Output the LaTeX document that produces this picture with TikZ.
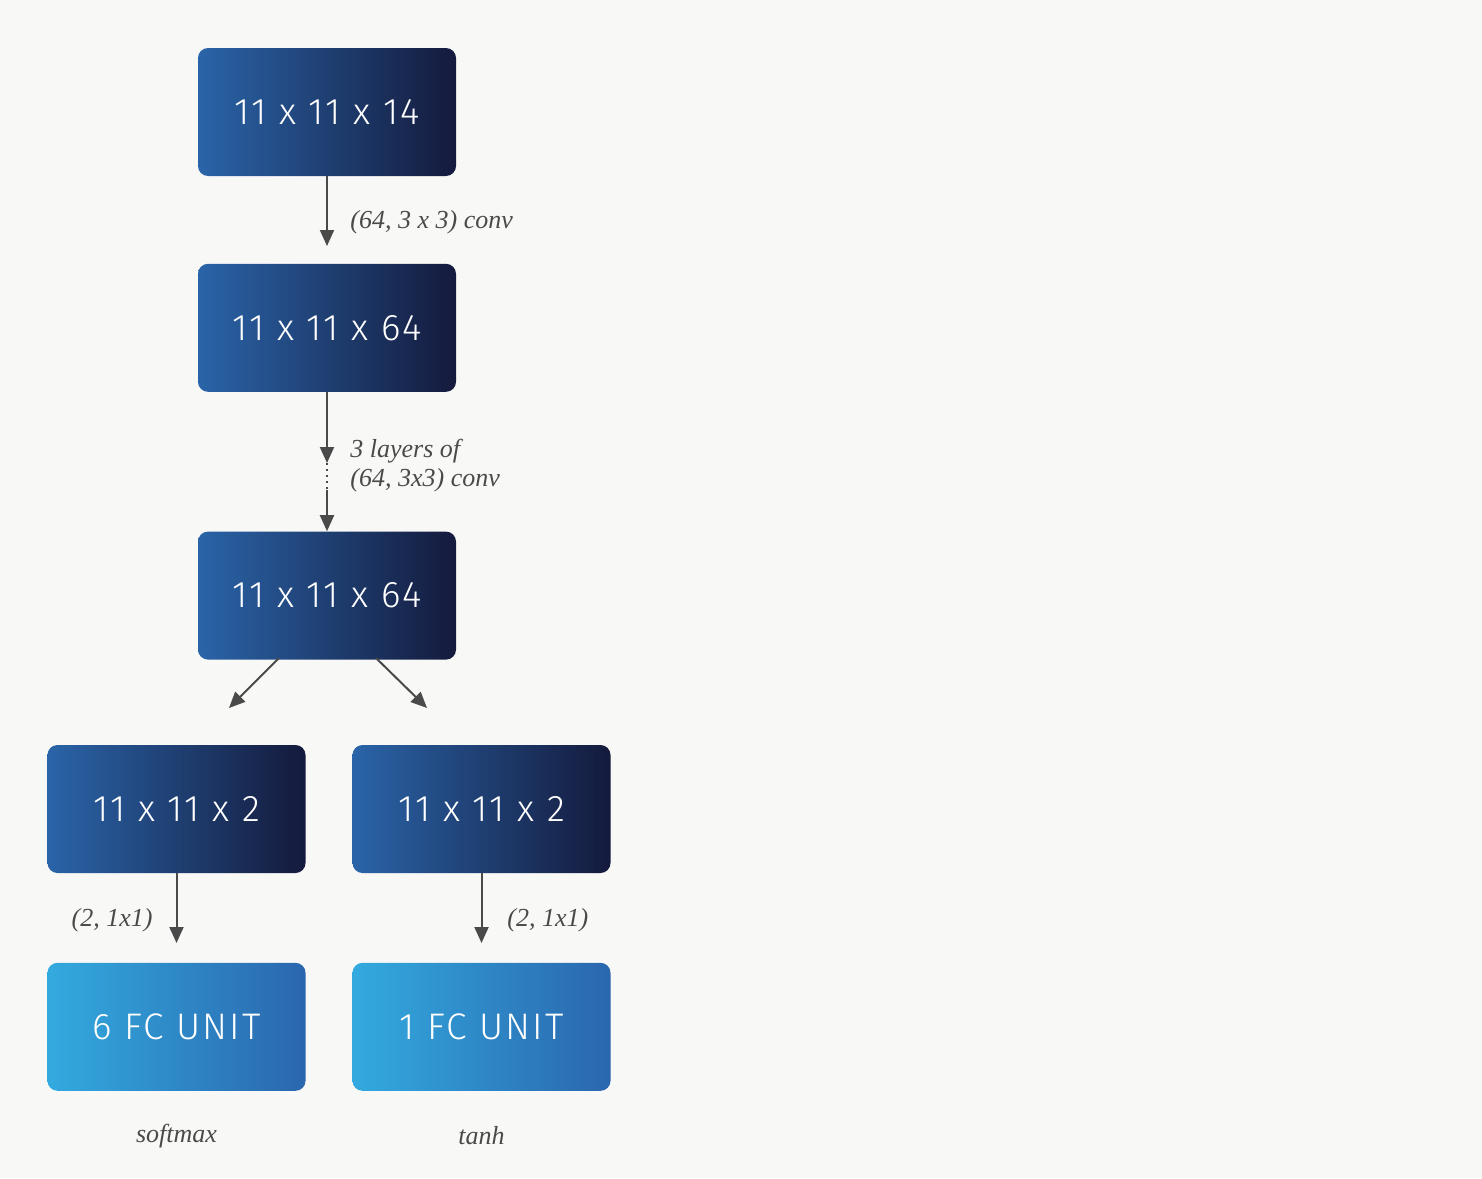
\documentclass[tikz,border=0pt]{standalone}
\usepackage{fontspec}
\setsansfont{Fira Sans Light}[LetterSpace=6]
\newfontfamily\lblfont{Liberation Serif}
\usetikzlibrary{arrows.meta, positioning}
\definecolor{bgcol}{HTML}{F8F8F6}
\definecolor{darkL}{HTML}{2A64A8}
\definecolor{darkR}{HTML}{141A3C}
\definecolor{lightL}{HTML}{33AADF}
\definecolor{lightR}{HTML}{2A66AE}
\definecolor{arrowcol}{HTML}{4A4A4A}
\definecolor{labelcol}{HTML}{4A4A4A}
\begin{document}
\begin{tikzpicture}[
			x=0.5pt, y=-0.5pt,
			node distance=43.5pt and 24pt,
			box/.style={rounded corners=5pt, align=center, text=white, minimum height=64pt, minimum width=129pt, font=\sffamily\fontsize{18.5}{22}\selectfont, inner sep=0pt},
			darkbox/.style={box, left color=darkL, right color=darkR},
			lightbox/.style={box, left color=lightL, right color=lightR},
			arrow/.style={-{Triangle[length=8pt, width=7pt]}, line width=1pt, draw=arrowcol},
			lbl/.style={font=\lblfont\itshape\fontsize{13}{14.5}\selectfont, text=labelcol, align=left, inner sep=0pt}
		]
		\fill[bgcol] (0,0) rectangle (1482,1178);
		\useasboundingbox (0,0) rectangle (1482,1178);

		\node[darkbox] (input) at (327,112) {11 x 11 x 14};
		\node[darkbox, below=of input] (conv) {11 x 11 x 64};
		\node[darkbox, below=69.5pt of conv] (tower) {11 x 11 x 64};
		\node[darkbox] (polconv) at (176.5,809) {11 x 11 x 2};
		\node[darkbox] (valconv) at (481.5,809) {11 x 11 x 2};
		\node[lightbox, below=44.5pt of polconv] (polfc) {6 FC UNIT};
		\node[lightbox, below=44.5pt of valconv] (valfc) {1 FC UNIT};

		% labels
		\node[lbl, anchor=west] (lconv) at (350,222) {(64, 3 x 3) conv};
		\node[lbl, anchor=west] (ltower) at (350,466) {3 layers of\\(64, 3x3) conv};
		\node[lbl, anchor=east] (lpol) at (153,920) {(2, 1x1)};
		\node[lbl, anchor=west] (lval) at (507,920) {(2, 1x1)};
		\node[lbl] (soft) at (176.5,1136) {softmax};
		\node[lbl] (tanh) at (481.5,1136) {tanh};

		% connectors
		\coordinate (dotA) at (327,463);
		\coordinate (dotB) at (327,490);
		\coordinate (polend) at (229,708);
		\coordinate (valend) at (427,708);
		\coordinate (polstart) at (279,658);
		\coordinate (valstart) at (376,658);

		\draw[arrow] (input) -- (327,246);
		\draw[arrow] (conv) -- (dotA);
		\draw[arrowcol, line width=1pt, dotted] (dotA) -- (dotB);
		\draw[arrow] (dotB) -- (tower);
		\draw[arrow] (polstart) -- (polend);
		\draw[arrow] (valstart) -- (valend);
		\draw[arrow] (polconv) -- (176.5,943);
		\draw[arrow] (valconv) -- (481.5,943);
	\end{tikzpicture}
\end{document}
